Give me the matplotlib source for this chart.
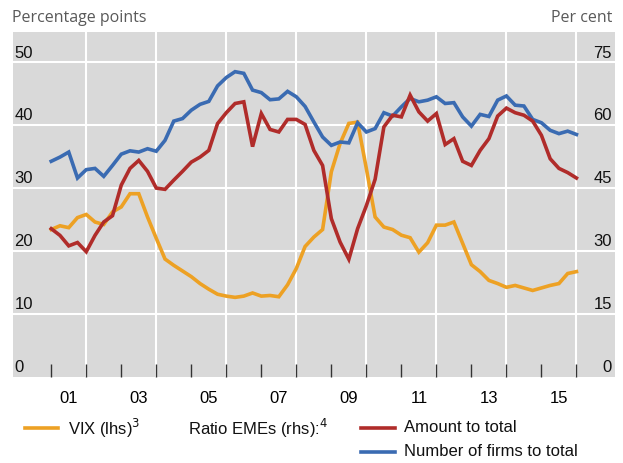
import numpy as np
import matplotlib
matplotlib.use('Agg')
import matplotlib.pyplot as plt
from matplotlib.lines import Line2D
import matplotlib.transforms as mtrans

# quarterly observations, 2001 to end-2015
dates = 2001 + 0.25 * np.arange(61)

vix = [23.4, 24.0, 23.7, 25.3, 25.8, 24.6, 24.2, 26.2, 27.0, 29.1,
       29.1, 25.4, 22.0, 18.7, 17.7, 16.8, 15.9, 14.8, 13.9, 13.1,
       12.8, 12.6, 12.8, 13.3, 12.8, 12.9, 12.7, 14.6, 17.2, 20.7,
       22.2, 23.4, 32.6, 37.1, 40.3, 40.5, 33.1, 25.4, 23.8, 23.4,
       22.5, 22.1, 19.8, 21.3, 24.1, 24.1, 24.6, 21.2, 17.8, 16.7,
       15.3, 14.8, 14.2, 14.5, 14.1, 13.7, 14.1, 14.5, 14.8, 16.4, 16.7]

amount = [35.3, 33.7, 31.2, 32.0, 29.8, 33.7, 36.9, 38.4, 45.7, 49.7,
          51.6, 49.0, 45.0, 44.7, 46.9, 49.0, 51.2, 52.4, 54.0, 60.4,
          63.0, 65.2, 65.6, 54.9, 62.8, 59.0, 58.4, 61.4, 61.4, 60.2,
          54.0, 50.4, 37.7, 32.1, 28.0, 35.3, 40.8, 47.1, 59.6, 62.4,
          62.0, 67.2, 63.2, 61.0, 62.8, 55.4, 56.8, 51.4, 50.4, 54.0,
          56.8, 62.2, 64.1, 63.0, 62.4, 61.0, 57.6, 52.0, 49.7, 48.7, 47.4]

firms = [51.4, 52.4, 53.6, 47.4, 49.4, 49.7, 47.8, 50.4, 53.1, 53.9,
         53.6, 54.4, 53.8, 56.4, 61.0, 61.6, 63.6, 65.0, 65.7, 69.4,
         71.4, 72.8, 72.4, 68.4, 67.8, 66.1, 66.3, 68.1, 66.8, 64.5,
         60.8, 57.2, 55.2, 56.0, 55.8, 60.6, 58.4, 59.2, 63.0, 62.2,
         64.4, 66.4, 65.6, 66.0, 66.8, 65.2, 65.4, 62.0, 59.8, 62.6,
         62.1, 66.0, 67.0, 64.8, 64.6, 61.4, 60.6, 58.8, 58.0, 58.6, 57.8]

left_ticks = [0, 10, 20, 30, 40, 50]
right_ticks = [0, 15, 30, 45, 60, 75]
year_labels = ['01', '03', '05', '07', '09', '11', '13', '15']
label_pos = [2001.5, 2003.5, 2005.5, 2007.5, 2009.5, 2011.5, 2013.5, 2015.5]

c_vix = '#EDA124'
c_amt = '#B02C2A'
c_firm = '#3A6BB2'
grey = '#D9D9D9'

fig = plt.figure(figsize=(6.23, 4.64), dpi=100)
ax = fig.add_axes([0.0204, 0.1864, 0.9667, 0.7418])
ax.set_facecolor(grey)
for s in ax.spines.values():
    s.set_visible(False)

ax.set_xlim(1999.9, 2017.1)
ax.set_ylim(0, 54.8)

# grid
for v in left_ticks[1:]:
    ax.axhline(v, color='white', lw=1.5, zorder=1)
for yr in range(2002, 2017, 2):
    ax.axvline(yr, color='white', lw=1.5, zorder=1)

ax.plot(dates, vix, color=c_vix, lw=2.6, zorder=3, solid_joinstyle='miter')

ax2 = ax.twinx()
ax2.set_ylim(0, 82.2)
for s in ax2.spines.values():
    s.set_visible(False)
ax2.plot(dates, firms, color=c_firm, lw=2.6, zorder=3, solid_joinstyle='miter')
ax2.plot(dates, amount, color=c_amt, lw=2.6, zorder=4, solid_joinstyle='miter')
ax2.set_yticks([])

# x ticks: year marks inside, labels centred between them
ax.set_xticks(range(2001, 2017))
ax.set_xticklabels([])
ax.tick_params(axis='x', which='major', direction='in', length=9.5, width=1,
               color='#333333')
ax.set_xticks(label_pos, minor=True)
ax.set_xticklabels(year_labels, minor=True, fontsize=12,
                   family='Liberation Sans')
ax.tick_params(axis='x', which='minor', length=0, pad=9.5)
ax.set_yticks([])

# y labels inside the plot, just above each gridline
off = mtrans.offset_copy(ax.get_yaxis_transform(), fig=fig, x=0, y=2, units='points')
for v in left_ticks:
    ax.text(0.003, v, str(v), transform=off, ha='left', va='bottom',
            fontsize=12, family='Liberation Sans', color='#111111')
off2 = mtrans.offset_copy(ax2.get_yaxis_transform(), fig=fig, x=0, y=2, units='points')
for v in right_ticks:
    ax2.text(0.995, v, str(v), transform=off2, ha='right', va='bottom',
             fontsize=12, family='Liberation Sans', color='#111111')

fig.text(0.019, 0.961, 'Percentage points', ha='left', va='center',
         fontsize=11.5, family='Open Sans', color='#595959')
fig.text(0.983, 0.961, 'Per cent', ha='right', va='center',
         fontsize=11.5, family='Open Sans', color='#595959')

# legend
def leg_line(x0, x1, y, c):
    fig.add_artist(Line2D([x0 / 623, x1 / 623], [1 - y / 464, 1 - y / 464],
                          color=c, lw=2.6))

def leg_text(x, y, s):
    fig.text(x / 623, 1 - y / 464, s, ha='left', va='center', fontsize=12,
             family='Liberation Sans', color='#111111')

leg_line(25, 58, 429, c_vix)
leg_text(68, 428, 'VIX (lhs)$^{3}$')
leg_text(188, 428, 'Ratio EMEs (rhs):$^{4}$')
leg_line(361, 395, 429, c_amt)
leg_text(404, 428, 'Amount to total')
leg_line(361, 395, 453, c_firm)
leg_text(404, 452, 'Number of firms to total')

plt.savefig('out.png', dpi=100)
